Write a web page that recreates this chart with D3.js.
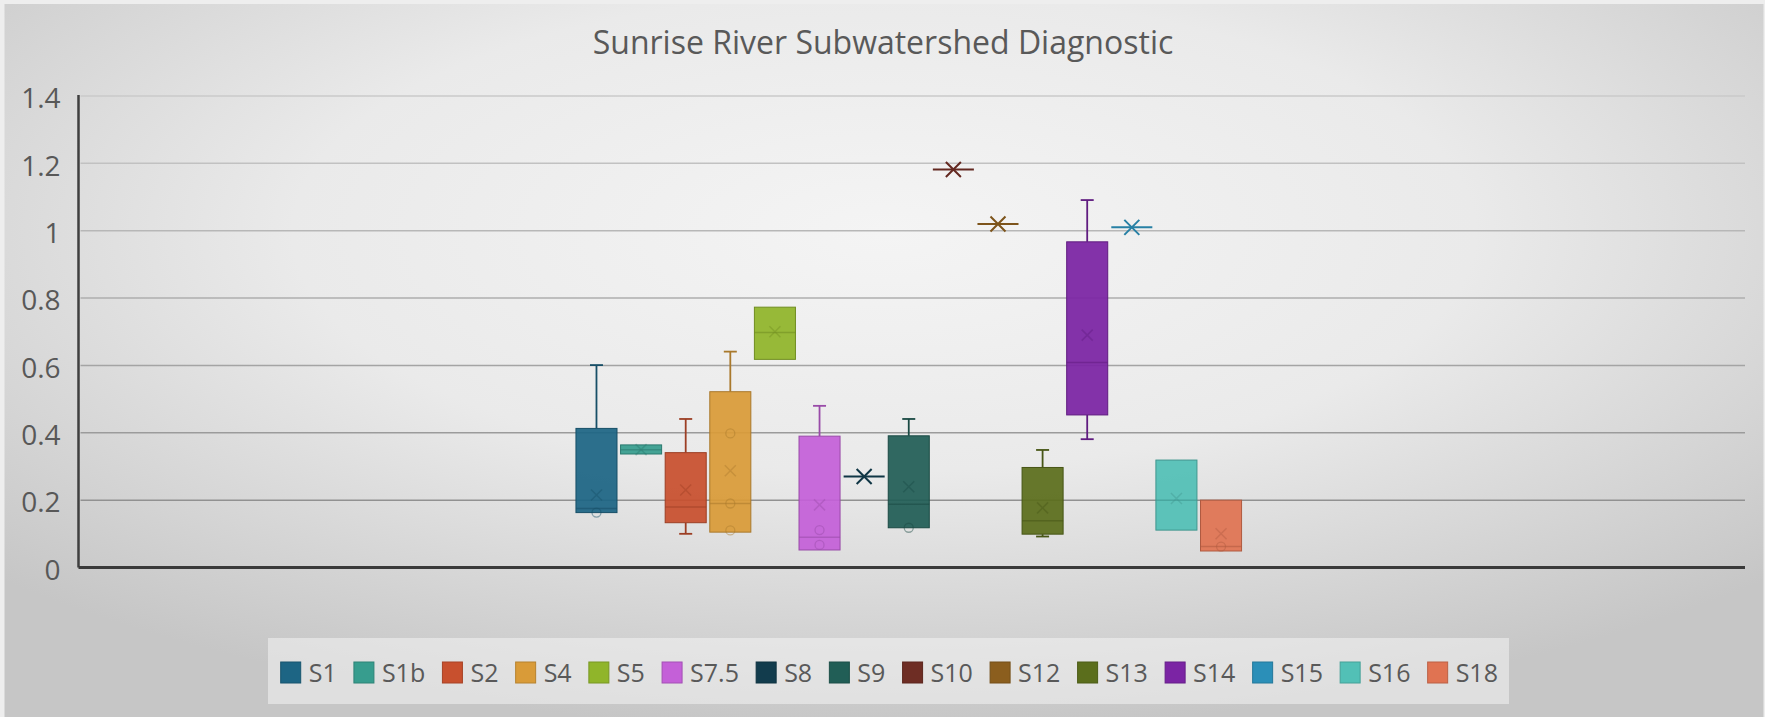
<!DOCTYPE html>
<html>
<head>
<meta charset="utf-8">
<script src="https://cdnjs.cloudflare.com/ajax/libs/d3/7.8.5/d3.min.js"></script>
<style>
  body { margin: 0; overflow: hidden; background: #ececec; }
  text { font-family: "Open Sans", sans-serif; }
</style>
</head>
<body>
<script>
// box & whisker summary per station
const series      = ["S1", "S1b", "S2", "S4", "S5", "S7.5", "S8", "S9", "S10", "S12", "S13", "S14", "S15", "S16", "S18"];
const whiskerLow  = [0.163, 0.337, 0.100, 0.105, 0.618, 0.052, 0.27, 0.118, 1.182, 1.02, 0.092, 0.381, 1.01, 0.111, 0.049];
const q1          = [0.163, 0.337, 0.133, 0.105, 0.618, 0.052, 0.27, 0.118, 1.182, 1.02, 0.099, 0.453, 1.01, 0.111, 0.049];
const median      = [0.175, 0.350, 0.180, 0.190, 0.698, 0.090, 0.27, 0.188, 1.182, 1.02, 0.139, 0.609, 1.01, 0.200, 0.062];
const q3          = [0.413, 0.364, 0.341, 0.522, 0.773, 0.390, 0.27, 0.391, 1.182, 1.02, 0.297, 0.967, 1.01, 0.319, 0.200];
const whiskerHigh = [0.601, 0.364, 0.441, 0.641, 0.773, 0.480, 0.27, 0.441, 1.182, 1.02, 0.349, 1.091, 1.01, 0.319, 0.200];
const means       = [0.215, 0.350, 0.230, 0.287, 0.700, 0.186, 0.27, 0.240, 1.182, 1.02, 0.177, 0.690, 1.01, 0.205, 0.100];
const innerPoints = [[0.163], [], [], [0.398, 0.19, 0.11], [], [0.111, 0.067], [], [0.118], [], [], [], [], [], [], [0.062]];
const yTicks = [0, 0.2, 0.4, 0.6, 0.8, 1, 1.2, 1.4];

const colors = ["#1d6584", "#379d8e", "#c8502e", "#d99b38", "#90b52a", "#c460d8", "#123c4d", "#215e56",
                "#6e2d24", "#8b5e1e", "#5b6e1c", "#7b24a4", "#2b8fb8", "#52c0b6", "#e07352"];

const W = 1765, H = 717;
const plotLeft = 78.5, plotRight = 1745, plotTop = 96, plotBottom = 567.5;

let svg = d3.select("body")
  .append("svg")
    .attr("width", W)
    .attr("height", H);

// background
let defs = svg.append("defs");
let rg = defs.append("radialGradient")
    .attr("id", "bg")
    .attr("cx", "50%").attr("cy", "32%").attr("r", "70%");
rg.append("stop").attr("offset", "0%").attr("stop-color", "#f4f4f4");
rg.append("stop").attr("offset", "48%").attr("stop-color", "#eaeaea");
rg.append("stop").attr("offset", "100%").attr("stop-color", "#c6c6c6");

svg.append("rect").attr("width", W).attr("height", H).attr("fill", "#eeeeee");
svg.append("rect")
    .attr("x", 4.5).attr("y", 4).attr("width", W - 6).attr("height", H - 4)
    .attr("fill", "url(#bg)");

// scales
let y = d3.scaleLinear().domain([0, 1.4]).range([plotBottom, plotTop]);

let xCat = d3.scaleBand()
    .domain(["all"])
    .range([plotLeft, plotRight])
    .padding(0.427)
    .align(0.497);

let x = d3.scaleBand()
    .domain(series)
    .range([xCat("all"), xCat("all") + xCat.bandwidth()])
    .paddingInner(0.08)
    .paddingOuter(0.04);

let color = d3.scaleOrdinal().domain(series).range(colors);
let gridShade = d3.scaleLinear().domain([0, 1.4]).range(["#888888", "#cacaca"]);

// gridlines
svg.append("g")
  .selectAll("line")
  .data(yTicks.filter(d => d > 0))
  .join("line")
    .attr("x1", plotLeft + 2).attr("x2", plotRight)
    .attr("y1", d => y(d)).attr("y2", d => y(d))
    .attr("stroke", d => gridShade(d))
    .attr("stroke-width", 1.5);

// y axis
let yAxis = svg.append("g")
    .attr("transform", `translate(${plotLeft},0)`)
    .call(d3.axisLeft(y).tickValues(yTicks).tickSize(0).tickPadding(18).tickFormat(d3.format("~g")));
yAxis.select(".domain")
    .attr("stroke", "#3f3f3f")
    .attr("stroke-width", 2.5)
    .attr("d", `M0,${plotTop - 1}V${plotBottom}`);
yAxis.selectAll("text")
    .attr("font-size", 28)
    .attr("fill", "#585858")
    .attr("dy", "0.42em")
    .style("font-family", "'Open Sans', sans-serif");

// baseline
svg.append("line")
    .attr("x1", plotLeft).attr("x2", plotRight)
    .attr("y1", y(0)).attr("y2", y(0))
    .attr("stroke", "#3a3a3a")
    .attr("stroke-width", 3);

// title
svg.append("text")
    .attr("x", 883).attr("y", 54)
    .attr("text-anchor", "middle")
    .attr("font-size", 32)
    .attr("fill", "#595959")
    .text("Sunrise River Subwatershed Diagnostic");

// boxes
let bw = x.bandwidth();
let boxes = svg.append("g")
  .selectAll("g")
  .data(series.map((s, i) => ({
      s, lo: whiskerLow[i], q1: q1[i], med: median[i], q3: q3[i], hi: whiskerHigh[i],
      mean: means[i], pts: innerPoints[i]
  })))
  .join("g")
    .attr("transform", d => `translate(${x(d.s)},0)`);

function xMark(g, cx, cy, r, stroke, width, opacity) {
  g.append("path")
    .attr("d", `M${cx - r},${cy - r}L${cx + r},${cy + r}M${cx - r},${cy + r}L${cx + r},${cy - r}`)
    .attr("stroke", stroke)
    .attr("stroke-width", width)
    .attr("stroke-opacity", opacity)
    .attr("fill", "none");
}

boxes.each(function(d) {
  let g = d3.select(this);
  let c = color(d.s);
  let dark = d3.color(c).darker(0.7).formatHex();
  let cx = bw / 2;

  if (d.q3 - d.q1 < 0.001) {
    // single value: a flat line with the mean marker
    g.append("line")
      .attr("x1", 0).attr("x2", bw)
      .attr("y1", y(d.med)).attr("y2", y(d.med))
      .attr("stroke", d3.color(c).darker(0.3))
      .attr("stroke-width", 2);
    xMark(g, cx, y(d.mean), 7.5, d3.color(c).darker(0.3), 2, 1);
    return;
  }

  // whiskers
  [[d.hi, d.q3], [d.lo, d.q1]].forEach(([end, edge]) => {
    if (Math.abs(y(end) - y(edge)) < 1) return;
    g.append("line")
      .attr("x1", cx).attr("x2", cx)
      .attr("y1", y(end)).attr("y2", y(edge))
      .attr("stroke", dark).attr("stroke-width", 1.8);
    g.append("line")
      .attr("x1", cx - 6.5).attr("x2", cx + 6.5)
      .attr("y1", y(end)).attr("y2", y(end))
      .attr("stroke", dark).attr("stroke-width", 1.8);
  });

  g.append("rect")
    .attr("x", 0).attr("width", bw)
    .attr("y", y(d.q3)).attr("height", y(d.q1) - y(d.q3))
    .attr("fill", c).attr("fill-opacity", 0.93)
    .attr("stroke", dark).attr("stroke-width", 1);

  g.append("line")
    .attr("x1", 0).attr("x2", bw)
    .attr("y1", y(d.med)).attr("y2", y(d.med))
    .attr("stroke", dark).attr("stroke-opacity", 0.55).attr("stroke-width", 1.5);

  g.selectAll("circle.pt")
    .data(d.pts)
    .join("circle")
      .attr("class", "pt")
      .attr("cx", cx).attr("cy", v => y(v)).attr("r", 4.5)
      .attr("fill", "none")
      .attr("stroke", dark).attr("stroke-opacity", 0.45).attr("stroke-width", 1.3);

  xMark(g, cx, y(d.mean), 5.5, dark, 1.5, 0.4);
});

// legend
svg.append("rect")
    .attr("x", 268).attr("y", 638).attr("width", 1241).attr("height", 66)
    .attr("fill", "#f7f7f7").attr("fill-opacity", 0.5);

let legend = svg.append("g");
let lx = 280.7;
series.forEach((s) => {
  let item = legend.append("g").attr("transform", `translate(${lx},0)`);
  item.append("rect")
    .attr("x", 0).attr("y", 662).attr("width", 20).attr("height", 21)
    .attr("fill", color(s))
    .attr("stroke", d3.color(color(s)).darker(0.5)).attr("stroke-width", 1);
  let t = item.append("text")
    .attr("x", 28).attr("y", 672.5)
    .attr("dy", "0.36em")
    .attr("font-size", 25)
    .attr("fill", "#595959")
    .text(s);
  lx += 28 + t.node().getComputedTextLength() + 17.2;
});
</script>
</body>
</html>
